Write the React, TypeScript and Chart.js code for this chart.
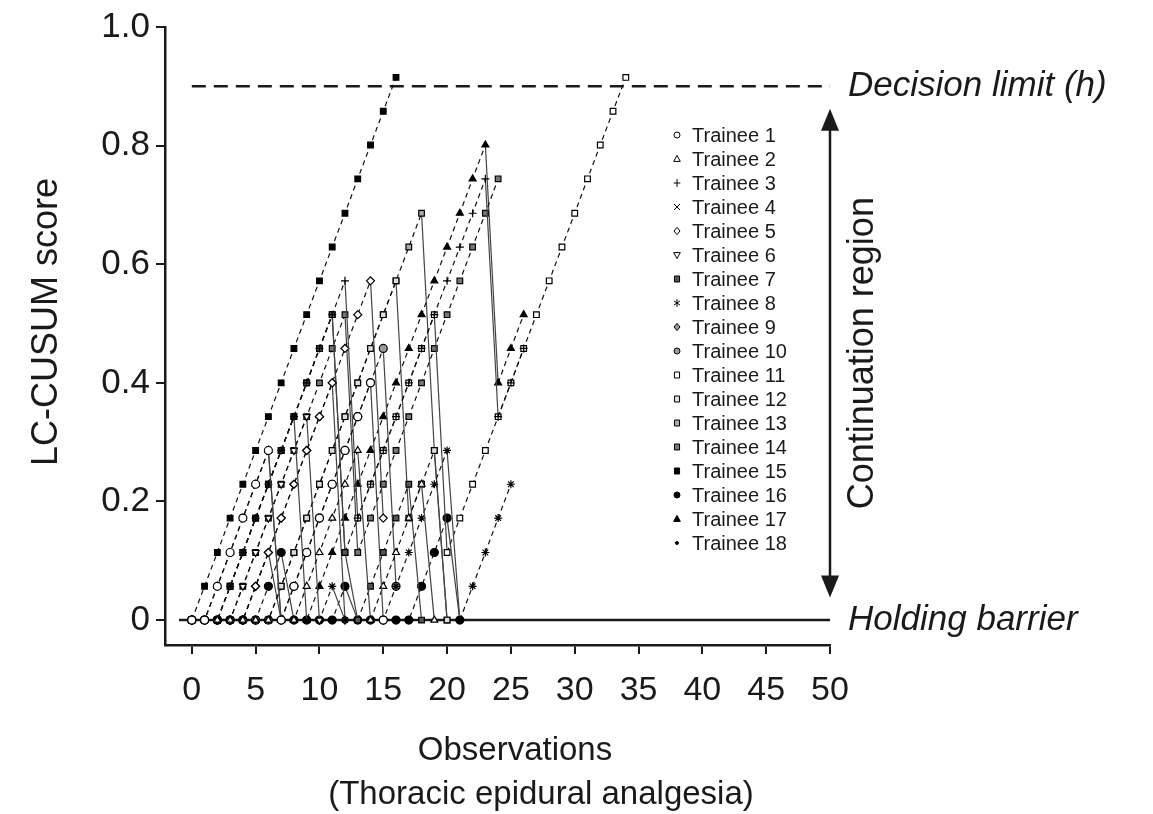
import React, { useEffect, useRef } from 'react';
import { Chart, registerables } from 'chart.js';

Chart.register(...registerables);

// ---- axes ----
const OBS_TICKS = [0, 5, 10, 15, 20, 25, 30, 35, 40, 45, 50];
const SCORE_TICKS = [0, 0.2, 0.4, 0.6, 0.8, 1.0];
const DECISION_LIMIT = 0.9;
const HOLDING_BARRIER = 0;

// ---- series: LC-CUSUM score per observation (index = observation number) ----
const TRAINEES = [
  'Trainee 1', 'Trainee 2', 'Trainee 3', 'Trainee 4', 'Trainee 5', 'Trainee 6',
  'Trainee 7', 'Trainee 8', 'Trainee 9', 'Trainee 10', 'Trainee 11', 'Trainee 12',
  'Trainee 13', 'Trainee 14', 'Trainee 15', 'Trainee 16', 'Trainee 17', 'Trainee 18',
];
const trainee1 = [0, 0, .057, .114, .172, .229, .286, 0, .057, .114, .172, .229, .286, .343, .4, 0];
const trainee2 = [0, 0, 0, 0, 0, 0, 0, 0, 0, .057, .114, .172, .229, .286, 0, .057, .114, .172, .229, 0];
const trainee3 = [0, 0, 0, .057, .114, .172, .229, .286, .343, .4, .458, .515, .572, .172, .229, .286, .343, .4, .458, .515, .572, .629, .686, .744, .343, .4, .458];
const trainee4 = [0, 0, 0, .057, .114, .172, .229, .286, .343, 0];
const trainee5 = [0, 0, 0, 0, 0, .057, .114, .172, .229, .286, .343, .4, .458, .515, .572, .172];
const trainee6 = [0, 0, 0, 0, .057, .114, .172, .229, .286, .343, 0];
const trainee7 = [0, 0, 0, .057, .114, .172, .229, .286, .343, .4, .458, .515, .114, 0, .057, .114, .172, .229, 0];
const trainee8 = [0, 0, 0, 0, 0, 0, 0, 0, 0, 0, 0, .057, 0, 0, 0, 0, .057, .114, .172, .229, .286, 0, .057, .114, .172, .229];
const trainee9 = [0, 0, 0, 0, 0, .057, .114, .172, .229, .286, .343, .4, 0];
const trainee10 = [0, 0, 0, 0, 0, 0, 0, 0, .057, .114, .172, .229, .286, .343, .4, .458, .057];
const trainee11 = [0, 0, 0, .057, .114, .172, .229, .286, .343, .4, .458, .515, .114, .172, .229, .286, .343, .4, .458, .515, .114, .172, .229, .286, .343, .4, .458, .515, .572, .629, .686, .744, .801, .858, .915];
const trainee12 = [0, 0, 0, 0, 0, 0, 0, .057, .114, .172, .229, .286, .343, .4, .458, .515, .572, .172, .229, .286, 0];
const trainee13 = [0, 0, 0, 0, 0, 0, 0, .057, .114, .172, .229, .286, .343, .4, .458, .515, .572, .629, .686, .286, 0];
const trainee14 = [0, 0, 0, 0, .057, .114, .172, .229, .286, .343, .4, .458, .515, .114, .172, .229, .286, .343, .4, .458, .515, .572, .629, .686, .744];
const trainee15 = [0, .057, .114, .172, .229, .286, .343, .4, .458, .515, .572, .629, .686, .744, .801, .858, .915];
const trainee16 = [0, 0, 0, 0, 0, 0, .057, .114, 0, 0, 0, 0, .057, 0, 0, 0, 0, 0, .057, .114, .172, 0];
const trainee17 = [0, 0, .057, .114, .172, .229, .286, 0, 0, 0, .057, .114, .172, .229, .286, .343, .4, .458, .515, .572, .629, .686, .744, .801, .4, .458, .515];
const trainee18 = [0, 0, 0, 0, 0, .057, .114, 0];

const SERIES = [
  trainee1, trainee2, trainee3, trainee4, trainee5, trainee6, trainee7, trainee8, trainee9,
  trainee10, trainee11, trainee12, trainee13, trainee14, trainee15, trainee16, trainee17, trainee18,
];

// ---- marker styles ----
type Mk = { ps: string; fill: string; rot?: number; r?: number };
const MARKERS: Mk[] = [
  { ps: 'circle', fill: '#fff' },
  { ps: 'triangle', fill: '#fff' },
  { ps: 'cross', fill: '#000' },
  { ps: 'crossRot', fill: '#000' },
  { ps: 'rectRot', fill: '#fff' },
  { ps: 'triangle', fill: '#fff', rot: 180 },
  { ps: 'rect', fill: '#555' },
  { ps: 'star', fill: '#000' },
  { ps: 'rectRot', fill: '#999' },
  { ps: 'circle', fill: '#999' },
  { ps: 'rect', fill: '#fff' },
  { ps: 'rect', fill: '#ddd' },
  { ps: 'rect', fill: '#aaa' },
  { ps: 'rect', fill: '#777' },
  { ps: 'rect', fill: '#000' },
  { ps: 'circle', fill: '#000' },
  { ps: 'triangle', fill: '#000' },
  { ps: 'circle', fill: '#000', r: 2 },
];

const FONT = '"Liberation Sans", Arial, Helvetica, sans-serif';

function drawMarker(ctx: CanvasRenderingContext2D, m: Mk, x: number, y: number, r: number) {
  ctx.save();
  ctx.translate(x, y);
  if (m.rot) ctx.rotate((m.rot * Math.PI) / 180);
  ctx.beginPath();
  ctx.lineWidth = 1;
  ctx.strokeStyle = '#000';
  ctx.fillStyle = m.fill;
  const s = r;
  switch (m.ps) {
    case 'circle':
      ctx.arc(0, 0, s, 0, Math.PI * 2);
      ctx.fill(); ctx.stroke();
      break;
    case 'triangle':
      ctx.moveTo(0, -s * 1.2);
      ctx.lineTo(s * 1.1, s * 0.8);
      ctx.lineTo(-s * 1.1, s * 0.8);
      ctx.closePath();
      ctx.fill(); ctx.stroke();
      break;
    case 'rect':
      ctx.rect(-s * 0.85, -s, s * 1.7, s * 2);
      ctx.fill(); ctx.stroke();
      break;
    case 'rectRot':
      ctx.moveTo(0, -s * 1.2); ctx.lineTo(s, 0); ctx.lineTo(0, s * 1.2); ctx.lineTo(-s, 0);
      ctx.closePath();
      ctx.fill(); ctx.stroke();
      break;
    case 'cross':
      ctx.moveTo(0, -s * 1.3); ctx.lineTo(0, s * 1.3);
      ctx.moveTo(-s * 1.1, 0); ctx.lineTo(s * 1.1, 0);
      ctx.stroke();
      break;
    case 'crossRot':
      ctx.moveTo(-s, -s); ctx.lineTo(s, s);
      ctx.moveTo(s, -s); ctx.lineTo(-s, s);
      ctx.stroke();
      break;
    case 'star':
      ctx.moveTo(0, -s * 1.3); ctx.lineTo(0, s * 1.3);
      ctx.moveTo(-s, -s * 0.7); ctx.lineTo(s, s * 0.7);
      ctx.moveTo(s, -s * 0.7); ctx.lineTo(-s, s * 0.7);
      ctx.stroke();
      break;
  }
  ctx.restore();
}

const overlayPlugin = {
  id: 'overlay',
  afterDraw(chart: any) {
    const ctx: CanvasRenderingContext2D = chart.ctx;
    const xs = chart.scales.x;
    const ys = chart.scales.y;
    ctx.save();
    ctx.fillStyle = '#1a1a1a';
    ctx.textBaseline = 'middle';

    // right-hand annotations
    const ax = xs.right;
    ctx.font = `italic 35px ${FONT}`;
    ctx.textAlign = 'left';
    ctx.fillText('Decision limit (h)', ax + 18, ys.getPixelForValue(DECISION_LIMIT));
    ctx.fillText('Holding barrier', ax + 18, ys.getPixelForValue(HOLDING_BARRIER));

    // double-headed arrow
    const top = ys.getPixelForValue(0.862);
    const bot = ys.getPixelForValue(0.038);
    ctx.strokeStyle = '#1a1a1a';
    ctx.lineWidth = 2.5;
    ctx.beginPath();
    ctx.moveTo(ax, top + 10);
    ctx.lineTo(ax, bot - 10);
    ctx.stroke();
    ctx.beginPath();
    ctx.moveTo(ax, top); ctx.lineTo(ax + 9, top + 22); ctx.lineTo(ax - 9, top + 22); ctx.closePath();
    ctx.fill();
    ctx.beginPath();
    ctx.moveTo(ax, bot); ctx.lineTo(ax + 9, bot - 22); ctx.lineTo(ax - 9, bot - 22); ctx.closePath();
    ctx.fill();

    // vertical text
    ctx.save();
    ctx.translate(ax + 33, (top + bot) / 2);
    ctx.rotate(-Math.PI / 2);
    ctx.textAlign = 'center';
    ctx.font = `36px ${FONT}`;
    ctx.fillText('Continuation region', 0, 0);
    ctx.restore();

    // axis titles
    ctx.save();
    ctx.translate(47, 322);
    ctx.rotate(-Math.PI / 2);
    ctx.textAlign = 'center';
    ctx.font = `36px ${FONT}`;
    ctx.fillText('LC-CUSUM score', 0, 0);
    ctx.restore();

    ctx.textAlign = 'center';
    ctx.font = `33px ${FONT}`;
    ctx.fillText('Observations', 515, 751);
    ctx.fillText('(Thoracic epidural analgesia)', 541, 795);

    // legend
    ctx.textAlign = 'left';
    ctx.font = `20px ${FONT}`;
    TRAINEES.forEach((name, i) => {
      const y = 135 + i * 24;
      const m = MARKERS[i];
      drawMarker(ctx, m, 677, y, m.r ? m.r - 0.5 : 3);
      ctx.fillText(name, 692, y + 1);
    });
    ctx.restore();
  },
};

export default function App() {
  const ref = useRef<HTMLCanvasElement | null>(null);

  useEffect(() => {
    document.body.style.margin = '0';
    const canvas = ref.current;
    if (!canvas) return;

    const down = (c: any) => c.p1.parsed.y < c.p0.parsed.y;

    const traineeSets = SERIES.map((vals, i) => {
      const m = MARKERS[i];
      return {
        label: TRAINEES[i],
        data: vals.map((v, k) => ({ x: k, y: v })),
        borderColor: '#111',
        borderWidth: 1.2,
        borderDash: [],
        backgroundColor: m.fill,
        pointStyle: m.ps,
        pointRotation: m.rot || 0,
        pointRadius: m.r || 4,
        pointBorderColor: '#000',
        pointBackgroundColor: m.fill,
        pointBorderWidth: 1.2,
        tension: 0,
        order: 0,
        segment: {
          borderDash: (c: any) => (down(c) ? [] : [5, 4]),
          borderColor: (c: any) => (down(c) ? '#444' : '#111'),
        },
      };
    });

    const refSets = [
      {
        label: 'Decision limit',
        data: [{ x: OBS_TICKS[0], y: DECISION_LIMIT }, { x: OBS_TICKS[OBS_TICKS.length - 1], y: DECISION_LIMIT }],
        borderColor: '#1a1a1a',
        borderWidth: 2.5,
        borderDash: [14, 8],
        pointRadius: 0,
        order: 5,
      },
      {
        label: 'Holding barrier',
        data: [{ x: -1, y: HOLDING_BARRIER }, { x: OBS_TICKS[OBS_TICKS.length - 1], y: HOLDING_BARRIER }],
        borderColor: '#1a1a1a',
        borderWidth: 2.5,
        pointRadius: 0,
        order: 5,
      },
    ];

    const chart = new Chart(canvas, {
      type: 'line',
      data: { datasets: [...traineeSets, ...refSets] as any },
      options: {
        responsive: false,
        animation: false,
        layout: { padding: { left: 0, right: 323, top: 22, bottom: 0 } },
        plugins: { legend: { display: false }, tooltip: { enabled: false }, title: { display: false } },
        scales: {
          x: {
            type: 'linear',
            min: -2.1,
            max: 50,
            afterBuildTicks: (s: any) => { s.ticks = OBS_TICKS.map((v) => ({ value: v })); },
            afterFit: (s: any) => { s.height = 169; },
            grid: { display: true, drawOnChartArea: false, drawTicks: true, tickLength: 9, color: '#1a1a1a', lineWidth: 2 },
            border: { display: true, color: '#1a1a1a', width: 2.5 },
            ticks: { font: { family: FONT, size: 34 }, color: '#1a1a1a', padding: 16, maxRotation: 0, autoSkip: false },
          },
          y: {
            type: 'linear',
            min: -0.042,
            max: 1.0,
            afterBuildTicks: (s: any) => { s.ticks = SCORE_TICKS.map((v) => ({ value: v })); },
            afterFit: (s: any) => { s.width = 165; },
            grid: { display: true, drawOnChartArea: false, drawTicks: true, tickLength: 9, color: '#1a1a1a', lineWidth: 2 },
            border: { display: true, color: '#1a1a1a', width: 2.5 },
            ticks: {
              font: { family: FONT, size: 35 },
              color: '#1a1a1a',
              padding: 6,
              autoSkip: false,
              callback: (v: any) => (Number(v) === 0 ? '0' : Number(v).toFixed(1)),
            },
          },
        },
      },
      plugins: [overlayPlugin],
    });

    return () => chart.destroy();
  }, []);

  return (
    <div style={{ position: 'absolute', left: 0, top: 0, width: 1153, height: 814, background: '#fff' }}>
      <canvas ref={ref} width={1153} height={814} style={{ display: 'block' }} />
    </div>
  );
}
